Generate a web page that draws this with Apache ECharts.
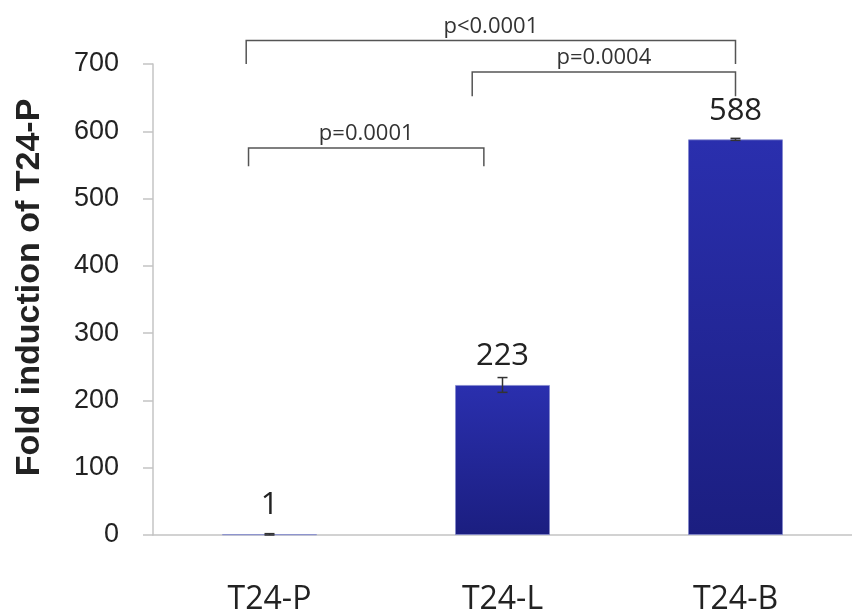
<!DOCTYPE html>
<html>
<head>
<meta charset="utf-8">
<script src="https://cdn.jsdelivr.net/npm/echarts@6/dist/echarts.min.js"></script>
<style>
html, body { margin: 0; padding: 0; background: #fff; }
#bar { width: 852px; height: 616px; }
</style>
</head>
<body>
<div id="bar"></div>
<script>
// groups and fold induction values
const categories = ['T24-P', 'T24-L', 'T24-B']
const foldValues = [1, 223, 588]
const foldErrors = [1, 11, 1.5]

// significance brackets (category index from/to, bracket value, foot value)
const bracketFrom = [-0.1, 0.87, -0.09]
const bracketTo = [2.0, 2.0, 0.92]
const bracketTop = [735, 688, 575]
const bracketFoot = [700, 652, 548]
const bracketText = ['p<0.0001', 'p=0.0004', 'p=0.0001']

const axisGrey = '#c4c4c4'

let myChart = echarts.init(document.getElementById('bar'))

//误差线
function renderError(params, api) {
    let i = api.value(0)
    let v = api.value(1)
    let e = api.value(2)
    let hi = api.coord([i, v + e])
    let lo = api.coord([i, v - e])
    let w = 5
    return {
        type: 'group',
        children: [
            { type: 'line', shape: { x1: hi[0], y1: hi[1], x2: lo[0], y2: lo[1] }, style: { stroke: '#333', lineWidth: 1.5 } },
            { type: 'line', shape: { x1: hi[0] - w, y1: hi[1], x2: hi[0] + w, y2: hi[1] }, style: { stroke: '#333', lineWidth: 1.5 } },
            { type: 'line', shape: { x1: lo[0] - w, y1: lo[1], x2: lo[0] + w, y2: lo[1] }, style: { stroke: '#333', lineWidth: 1.5 } }
        ]
    }
}

//显著性括号 (类目轴不支持小数位置, 用类目宽度换算)
function renderBracket(params, api) {
    let k = params.dataIndex
    let band = api.size([1, 0])[0]
    let x0 = api.coord([0, 0])[0]
    let xa = x0 + bracketFrom[k] * band
    let xb = x0 + bracketTo[k] * band
    let yTop = api.coord([0, bracketTop[k]])[1]
    let yFoot = api.coord([0, bracketFoot[k]])[1]
    return {
        type: 'group',
        children: [
            {
                type: 'polyline',
                shape: { points: [[xa, yFoot], [xa, yTop], [xb, yTop], [xb, yFoot]] },
                style: { stroke: '#555', lineWidth: 1.5, fill: null }
            },
            {
                type: 'text',
                x: (xa + xb) / 2,
                y: yTop - 3,
                style: {
                    text: bracketText[k],
                    font: '22px "Open Sans"',
                    fill: '#333',
                    align: 'center',
                    verticalAlign: 'bottom'
                }
            }
        ]
    }
}

let barOption = {
    animation: false,
    grid: {
        left: 153,
        right: -6,
        top: 64,
        bottom: 81
    },
    xAxis: {
        type: 'category',
        data: categories,
        axisLine: { lineStyle: { color: axisGrey, width: 1.5 } },
        axisTick: { length: 15, lineStyle: { color: axisGrey, width: 1.5 } },
        axisLabel: {
            margin: 49,
            color: '#222',
            fontSize: 32,
            fontFamily: 'Open Sans'
        }
    },
    yAxis: {
        type: 'value',
        min: 0,
        max: 700,
        interval: 100,
        name: 'Fold induction of T24-P',
        nameLocation: 'middle',
        nameRotate: 90,
        nameGap: 106,
        nameTextStyle: {
            color: '#222',
            fontSize: 34,
            fontWeight: 'bold',
            fontFamily: 'Liberation Sans',
            padding: [0, 0, 0, 24]
        },
        axisLine: { show: true, lineStyle: { color: axisGrey, width: 1.5 } },
        axisTick: { show: true, length: 10, lineStyle: { color: axisGrey, width: 1.5 } },
        splitLine: { show: false },
        axisLabel: {
            margin: 34,
            color: '#222',
            fontSize: 27,
            fontFamily: 'Liberation Sans'
        }
    },
    series: [
        {
            name: 'fold',
            type: 'bar',
            data: foldValues,
            barWidth: 95,
            itemStyle: {
                color: new echarts.graphic.LinearGradient(0, 0, 0, 1, [
                    { offset: 0, color: '#2a2fae' },
                    { offset: 1, color: '#1b1e80' }
                ]),
                borderColor: 'rgba(130,135,205,0.7)',
                borderWidth: 1
            },
            label: {
                show: true,
                position: 'top',
                distance: 13,
                color: '#222',
                fontSize: 31,
                fontFamily: 'Open Sans'
            }
        },
        {
            name: 'error',
            type: 'custom',
            renderItem: renderError,
            data: foldValues.map((v, i) => [i, v, foldErrors[i]]),
            z: 5
        },
        {
            name: 'brackets',
            type: 'custom',
            renderItem: renderBracket,
            clip: false,
            data: bracketText.map((t, i) => [i, bracketTop[i]]),
            z: 5
        }
    ]
}

barOption && myChart.setOption(barOption)
</script>
</body>
</html>
